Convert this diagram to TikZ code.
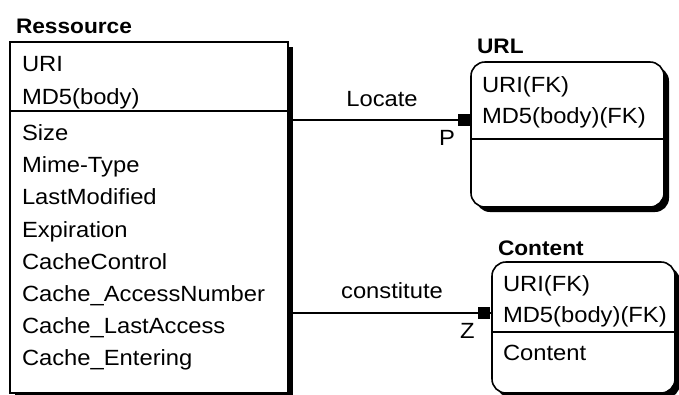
\documentclass[tikz,border=0pt]{standalone}
\usepackage{fontspec}
\setmainfont{Liberation Sans}[FakeStretch=1.08]
\usetikzlibrary{shadows}
\begin{document}
\begin{tikzpicture}[x=1bp,y=-1bp,
  every node/.style={inner sep=0pt, outer sep=0pt},
  attr/.style={anchor=base west, font=\fontsize{22bp}{26bp}\selectfont},
  lbl/.style={font=\fontsize{22bp}{26bp}\selectfont},
  title/.style={anchor=base west, font=\fontsize{21bp}{25bp}\selectfont\bfseries},
  entity/.style={draw, line width=1.6bp, fill=white, anchor=north west,
    drop shadow={shadow xshift=5bp, shadow yshift=-5bp, fill=black, opacity=1}},
  rel/.style={line width=1.6bp},
  endsq/.style={fill=black, minimum size=12bp, anchor=east}]
\useasboundingbox (0,0) rectangle (679,394);

% Ressource entity
\node[entity, minimum width=278bp, minimum height=351bp] (res) at (10,42) {};
\node[title] (resT) at (16,33) {Ressource};
\draw[rel] (res.west |- 0,111) -- (res.east |- 0,111);
\node[attr] (r1) at (22,71) {URI};
\node[attr] (r2) at (22,104) {MD5(body)};
\node[attr] (r3) at (22,140) {Size};
\node[attr] (r4) at (22,172) {Mime-Type};
\node[attr] (r5) at (22,204) {LastModified};
\node[attr] (r6) at (22,237) {Expiration};
\node[attr] (r7) at (22,269) {CacheControl};
\node[attr] (r8) at (22,301) {Cache\_AccessNumber};
\node[attr] (r9) at (22,333) {Cache\_LastAccess};
\node[attr] (r10) at (22,365) {Cache\_Entering};

% URL entity
\node[entity, rounded corners=14bp, minimum width=193bp, minimum height=145bp] (url) at (471,62) {};
\node[title] (urlT) at (477,53) {URL};
\draw[rel] (url.west |- 0,139) -- (url.east |- 0,139);
\node[attr] (u1) at (482,92) {URI(FK)};
\node[attr] (u2) at (482,123) {MD5(body)(FK)};

% Content entity
\node[entity, rounded corners=14bp, minimum width=183bp, minimum height=131bp] (cnt) at (492,262) {};
\node[title] (cntT) at (498,255) {Content};
\draw[rel] (cnt.west |- 0,332) -- (cnt.east |- 0,332);
\node[attr] (c1) at (503,291) {URI(FK)};
\node[attr] (c2) at (503,322) {MD5(body)(FK)};
\node[attr] (c3) at (503,360) {Content};

% Relationships
\coordinate (yl) at (0,120);
\coordinate (yc) at (0,313);
\draw[rel] ([xshift=5bp]res.east |- yl) -- (url.west |- yl)
  node[endsq, xshift=-1bp] (sqL) {};
\draw[rel] ([xshift=5bp]res.east |- yc) -- (cnt.west |- yc)
  node[endsq, xshift=-2bp] (sqC) {};
\node[lbl, anchor=base] (locate) at (382,106) {Locate};
\node[lbl, anchor=base west] (p) at (439,145) {P};
\node[lbl, anchor=base] (constitute) at (392,298) {constitute};
\node[lbl, anchor=base west] (z) at (460,338) {Z};
\end{tikzpicture}
\end{document}
